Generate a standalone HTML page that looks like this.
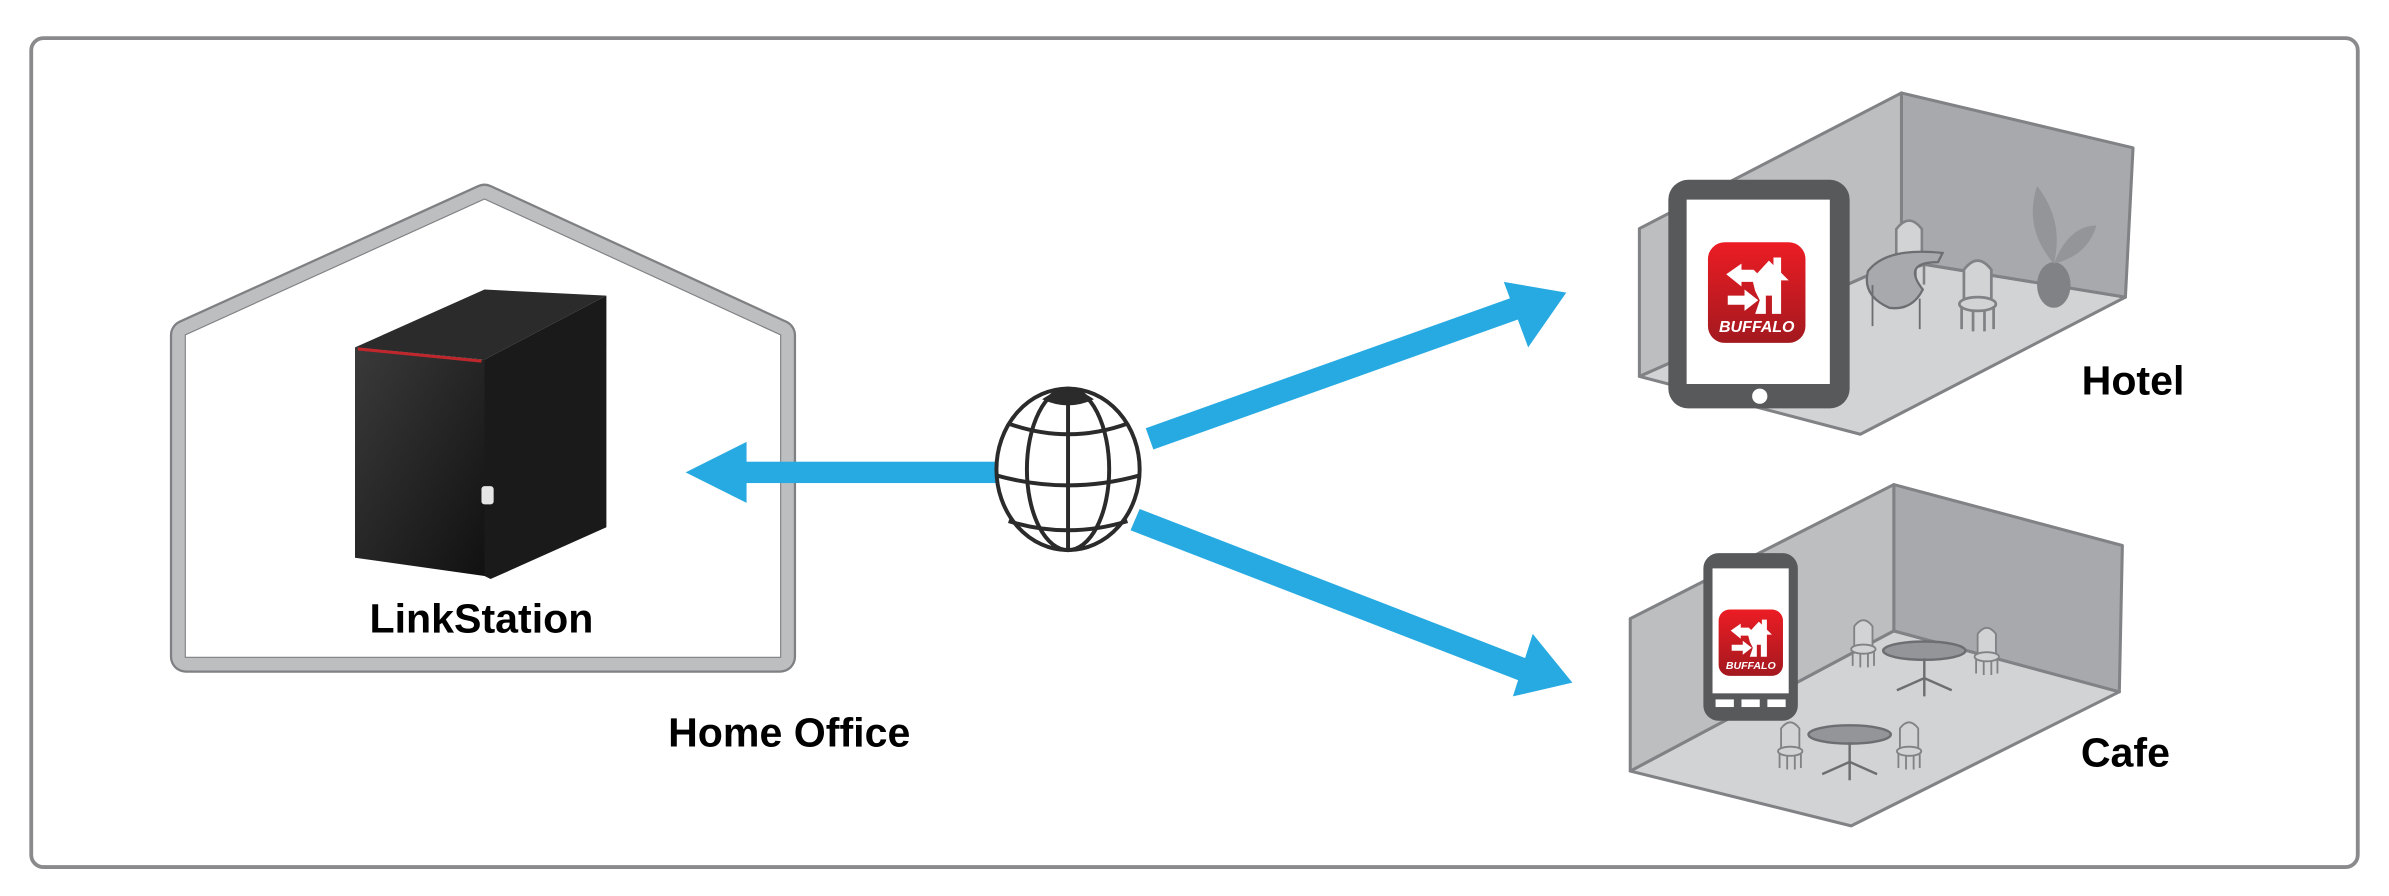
<!DOCTYPE html>
<html><head><meta charset="utf-8"><style>
html,body{margin:0;padding:0;background:#fff;}
svg{display:block}
text{font-family:"Liberation Sans",sans-serif;font-weight:bold;}
</style></head><body>
<svg width="2389" height="896" viewBox="0 0 1568 588" preserveAspectRatio="none" xmlns="http://www.w3.org/2000/svg">
<defs>
<linearGradient id="red" x1="0" y1="0" x2="0" y2="1"><stop offset="0" stop-color="#ec1c24"/><stop offset="1" stop-color="#a3191f"/></linearGradient>
<linearGradient id="nas" x1="0" y1="0" x2="1" y2="1"><stop offset="0" stop-color="#3a3a3a"/><stop offset="1" stop-color="#111"/></linearGradient>
<g id="icon">
<rect x="0" y="0" width="64" height="66" rx="11" fill="url(#red)"/>
<path d="M12 21 L22 14 L22 18 L30 18 L34 22 L30 26 L22 26 L22 29 Z" fill="#fff"/>
<path d="M13 35 L24 35 L24 31 L33 38 L24 45 L24 41 L13 41 Z" fill="#fff"/>
<path d="M29 24 L40 12 L43 15 L43 10 L48 10 L48 20 L53 25 L48 25 L48 47 L42 47 L42 35 L38 35 L38 47 L31 47 L34 38 L31 32 Z" fill="#fff"/>
<text x="32" y="59" font-size="10.5" fill="#fff" text-anchor="middle" font-style="italic">BUFFALO</text>
</g>
<g id="chair" fill="none" stroke="#808285" stroke-width="1.2">
<path d="M-6 0 L-6 -14 Q0 -22 6 -14 L6 0" fill="#d1d3d4"/>
<ellipse cx="0" cy="1" rx="8" ry="3" fill="#d1d3d4"/>
<path d="M-7 2 L-7 12 M7 2 L7 12 M-2 4 L-2 13 M3 4 L3 13"/>
</g>
<g id="table" fill="none" stroke="#6d6e71" stroke-width="1.6">
<ellipse cx="0" cy="0" rx="27" ry="6" fill="#939598"/>
<path d="M0 5 L0 30 M0 18 L-18 26 M0 18 L18 26"/>
</g>
</defs>

<!-- outer frame -->
<rect x="20.5" y="25" width="1527" height="544" rx="8" fill="#fff" stroke="#8a8a8c" stroke-width="2.5"/>

<!-- house -->
<path d="M122 220 L318 131 L512 220 L512 431 L122 431 Z" fill="#fff" stroke="#7f8083" stroke-width="21" stroke-linejoin="round"/>
<path d="M122 220 L318 131 L512 220 L512 431 L122 431 Z" fill="#fff" stroke="#bcbec0" stroke-width="18" stroke-linejoin="round"/>
<path d="M122 220 L318 131 L512 220 L512 431 L122 431 Z" fill="#fff" stroke="#7f8083" stroke-width="1.5"/>
<path d="M122 220 L318 131 L512 220 L512 431 L122 431 Z" fill="#fff" stroke="none"/>

<!-- NAS -->
<path d="M233 228 L318 190 L398 194 L318 236 Z" fill="#2b2b2b"/>
<path d="M318 236 L398 194 L398 346 L322 380 L318 378 Z" fill="#1a1a1a"/>
<path d="M233 228 L318 236 L318 378 L233 366 Z" fill="url(#nas)"/>
<path d="M235 229 L316 237" stroke="#c0272d" stroke-width="2"/>
<rect x="316" y="319" width="8" height="12" rx="2" fill="#e6e6e6"/>

<text x="316" y="415" font-size="27" text-anchor="middle" fill="#000">LinkStation</text>
<text x="518" y="490" font-size="27" text-anchor="middle" fill="#000">Home Office</text>

<!-- arrows -->
<g fill="#27aae1">
<rect x="488" y="303" width="170" height="14"/>
<path d="M450 310 L490 290 L490 330 Z"/>
<path d="M752 281 L996 194 L1001 208 L757 295 Z"/>
<path d="M1028 192 L987 185 L1003 228 Z"/>
<path d="M748 334 L1004 433 L998 447 L742 348 Z"/>
<path d="M1032 448 L993 457 L1006 416 Z"/>
</g>

<!-- globe -->
<g fill="none" stroke="#2b2b2b" stroke-width="2.6">
<ellipse cx="701" cy="308" rx="47" ry="53" fill="#fff"/>
<ellipse cx="701" cy="308" rx="27" ry="53"/>
<line x1="701" y1="255" x2="701" y2="361"/>
<path d="M662 278 Q701 292 740 278"/>
<path d="M654 312 Q701 325 748 312"/>
<path d="M662 342 Q701 354 740 342"/>
</g>
<path d="M684 262 Q701 250 718 262 Q701 270 684 262 Z" fill="#2b2b2b"/>

<!-- Hotel room -->
<g stroke="#808285" stroke-width="2" stroke-linejoin="round">
<path d="M1076 247 L1221 285 L1395 195 L1248 171 Z" fill="#d1d3d4"/>
<path d="M1248 61 L1400 97 L1395 195 L1248 171 Z" fill="#a7a9ac"/>
<path d="M1076 150 L1248 61 L1248 171 L1076 247 Z" fill="#bcbec0"/>
</g>
<ellipse cx="1348" cy="187" rx="11" ry="15" fill="#808285"/>
<path d="M1348 173 Q1328 150 1337 122 Q1355 145 1348 173 Q1358 148 1376 148 Q1370 168 1348 173 Z" fill="#939598"/>
<g transform="translate(1253,170) scale(1.4)"><use href="#chair"/></g>
<path d="M1226 178 Q1238 162 1275 166 L1272 172 Q1248 172 1262 190 Q1255 204 1240 202 Q1222 194 1226 178 Z" fill="#a7a9ac" stroke="#6d6e71" stroke-width="1.5"/>
<path d="M1229 187 L1229 214 M1260 196 L1260 216" stroke="#6d6e71" stroke-width="1.2"/>
<g transform="translate(1298,198) scale(1.5)"><use href="#chair"/></g>

<!-- tablet -->
<rect x="1095" y="118" width="119" height="150" rx="13" fill="#58595b"/>
<rect x="1107" y="131" width="94" height="121" fill="#fff"/>
<circle cx="1155" cy="260" r="5" fill="#fff"/>
<use href="#icon" transform="translate(1121,159) scale(1.0)"/>
<text x="1400" y="259" font-size="27" text-anchor="middle" fill="#000">Hotel</text>

<!-- Cafe room -->
<g stroke="#808285" stroke-width="2" stroke-linejoin="round">
<path d="M1070 506 L1215 542 L1391 454 L1243 414 Z" fill="#d1d3d4"/>
<path d="M1243 318 L1393 358 L1391 454 L1243 414 Z" fill="#a7a9ac"/>
<path d="M1070 406 L1243 318 L1243 414 L1070 506 Z" fill="#bcbec0"/>
</g>
<use href="#chair" x="1223" y="425"/>
<use href="#chair" x="1304" y="430"/>
<use href="#table" x="1263" y="427"/>
<use href="#chair" x="1175" y="492"/>
<use href="#chair" x="1253" y="492"/>
<use href="#table" x="1214" y="482"/>

<!-- phone -->
<rect x="1118" y="363" width="62" height="110" rx="10" fill="#58595b"/>
<rect x="1124" y="373" width="50" height="82" fill="#fff"/>
<rect x="1126" y="459" width="12" height="5" fill="#fff"/>
<rect x="1143" y="459" width="12" height="5" fill="#fff"/>
<rect x="1160" y="459" width="12" height="5" fill="#fff"/>
<use href="#icon" transform="translate(1128,400) scale(0.66)"/>
<text x="1395" y="503" font-size="27" text-anchor="middle" fill="#000">Cafe</text>
</svg>
</body></html>
